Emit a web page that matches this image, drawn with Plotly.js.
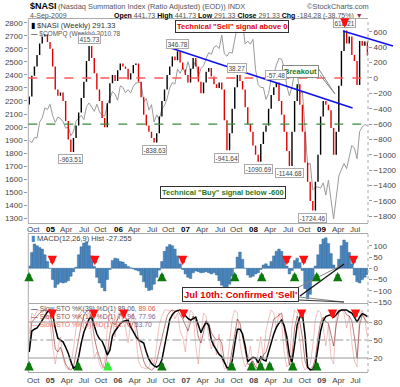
<!DOCTYPE html>
<html><head><meta charset="utf-8">
<script src="https://cdn.plot.ly/plotly-3.0.1.min.js"></script>
<style>html,body{margin:0;padding:0;background:#fff;}#chart{width:400px;height:387px;}</style>
</head><body><div id="chart"></div>
<script>
// ---------------- DATA ----------------
const startDate = [2004, 8, 10];   // first weekly bar used (UTC y, m0, d)
const stepDays = 14;               // bi-weekly sampling of the weekly chart

const compq = [1895,1880,1920,1915,2038,2070,2147,2135,2175,
2087,2035,2076,2065,2041,1991,1999,1932,1967,2046,2071,2090,2057,2156,2185,2157,2120,2175,2116,2090,2083,2170,2227,2273,2252,2205,
2317,2304,2262,2287,2262,2313,2339,2342,2343,2193,2219,2130,2172,2038,2094,2057,2140,2165,2218,2299,2342,2330,2445,2413,2457,2415,
2502,2435,2459,2515,2387,2448,2471,2526,2573,2558,2613,2626,2603,2707,2562,2544,2576,2566,2671,2780,2726,2795,2637,2660,2636,2674,
2440,2326,2304,2303,2212,2258,2370,2402,2476,2528,2522,2454,2316,2239,2310,2414,2414,2255,2273,1947,1711,1720,1517,1536,1540,1530,
1571,1477,1591,1441,1293,1457,1622,1673,1719,1680,1774,1858,1838,1756,1966,2000,2020,2010.78];

const nasiFirstOpen = -345;
const nasi = [-240,30,150,300,450,540,570,470,380,150,
-150,-230,-190,-300,-560,-800,-963.51,-780,-620,-450,
-260,-50,220,415.73,260,60,-150,-300,-520,-640,
-330,-70,40,-40,100,190,150,120,-20,60,
170,190,-50,-250,-480,-620,-700,-780,-838.63,-720,
-500,-300,-150,40,150,280,230,346.78,200,110,
40,-60,120,260,150,-50,-200,-60,80,130,
20,-80,-130,-60,-150,-550,-941.64,-720,-400,-120,
38.27,-40,-150,-380,-600,-700,-880,-1000,-1090.69,-860,
-700,-620,-400,-220,-120,-57.48,-300,-480,-700,-950,
-1144.68,-700,-300,-80,-350,-700,-1100,-1350,-1600,-1724.46,
-1350,-1000,-500,-300,-350,-420,-650,-1000,-700,-100,
350,618.21,450,540,300,220,-90,480,420,475.61,
291.33];

const macdHist = [10,70,108,100,92,85,60,30,0,-50,
-85,-70,-62,-65,-62,-55,-35,-15,5,60,
95,112,118,100,55,8,-40,-65,-85,-100,
-50,-5,35,45,42,30,28,18,8,2,
-3,-8,-12,-30,-60,-85,-98,-95,-70,-40,
-8,30,75,95,105,100,85,55,20,-5,
-25,-40,-45,-20,-12,-15,-20,-18,-15,-20,
-25,-20,-30,-55,-75,-90,-95,-70,-35,0,
50,72,40,0,-30,-40,-35,-25,-20,-5,
15,20,10,30,55,75,85,75,50,10,
-25,-10,35,45,25,-10,-90,-135,-115,-55,
10,60,105,130,135,110,65,15,-5,40,
100,125,115,70,20,-30,-60,-65,-50,-40,
-27.255];

const sto39 = [30,65,68,70,76,83,92,97,100,94,
70,53,50,47,38,28,14,3,6,22,
45,63,74,85,88,74,60,52,48,38,
25,33,57,65,72,77,81,82,83,72,
63,56,50,48,45,30,18,11,7,5,
8,17,38,58,84,92,97,99,100,96,
91,86,83,86,88,75,62,72,80,74,
50,40,33,26,22,14,4,3,15,43,
68,68,60,40,14,18,21,20,12,22,
17,15,32,45,60,71,78,83,74,55,
25,13,42,75,88,94,58,5,0,1,
10,37,65,82,89,91,92,88,92,98,
100,100,100,97,95,88,80,88,94,92,
89.06];

const sto14 = [40,80,85,90,95,98,100,98,95,70,
35,30,38,25,10,3,0,5,30,55,
75,90,98,100,85,55,35,22,8,3,
25,60,80,75,85,95,92,88,75,70,
80,78,50,30,15,5,2,0,3,15,
35,55,75,90,97,100,98,100,92,85,
75,65,80,90,82,55,45,65,82,78,
62,55,50,52,45,15,2,8,35,65,
85,78,55,30,10,8,15,5,2,15,
25,30,45,65,85,88,92,95,70,35,
8,25,70,90,80,55,15,3,2,5,
20,55,80,88,80,78,60,40,75,95,
100,100,92,90,82,55,20,75,92,85,
77.96];

const sto5 = [60,95,90,98,100,95,100,90,80,40,
10,35,55,20,5,0,10,35,70,90,
98,100,100,92,55,20,30,10,2,15,
70,95,85,55,90,100,80,70,45,80,
95,60,15,5,3,2,5,20,10,45,
75,90,100,100,98,100,85,95,65,55,
30,75,100,95,40,10,60,95,90,55,
35,50,25,60,20,2,5,45,85,100,
95,45,20,5,15,40,5,0,30,55,
20,65,85,100,95,70,95,80,30,5,
10,75,100,95,50,10,0,5,10,40,
85,100,95,70,40,75,20,10,90,100,
100,95,70,90,45,15,5,90,100,85,
53.70];

const tickDates = ['2004-10-01','2005-01-01','2005-04-01','2005-07-01','2005-10-01','2006-01-01','2006-04-01','2006-07-01','2006-10-01','2007-01-01','2007-04-01','2007-07-01','2007-10-01','2008-01-01','2008-04-01','2008-07-01','2008-10-01','2009-01-01','2009-04-01','2009-07-01'];
const tickLabels = ['Oct','<b>05</b>','Apr','Jul','Oct','<b>06</b>','Apr','Jul','Oct','<b>07</b>','Apr','Jul','Oct','<b>08</b>','Apr','Jul','Oct','<b>09</b>','Apr','Jul'];
const leftTicks = [1300,1400,1500,1600,1700,1800,1900,2000,2100,2200,2300,2400,2500,2600,2700,2800];
const rightTicks = [-1800,-1600,-1400,-1200,-1000,-800,-600,-400,-200,0,200,400,600];

// extreme-value labels: [index, text, direction(+1 above / -1 below)]
const extremeLabels = [[23,'415.73',1],[16,'-963.51',-1],[48,'-838.63',-1],[57,'346.78',1],[80,'38.27',1],[76,'-941.64',-1],[88,'-1090.69',-1],[95,'-57.48',1],[100,'-1144.68',-1],[109,'-1724.46',-1],[121,'618.21',1]];

const mainSellDates = ['2009-05-05'];
const macdBuyDates = ['2004-09-09','2006-08-25','2007-09-21','2008-02-13','2008-08-08','2008-12-05','2009-03-28'];
const macdSellDates = ['2005-01-12','2005-08-29','2006-12-15','2008-06-27','2008-09-26','2009-06-21'];
const stoBuyDates = ['2004-09-09','2005-05-31','2006-08-25','2007-09-04','2007-12-20','2008-02-07','2008-03-27','2008-07-29','2008-12-05'];
const stoBuyLightDates = ['2005-11-07'];
const stoSellDates = ['2005-01-12','2005-08-24','2006-02-01','2006-12-20','2008-09-15','2009-02-28','2009-07-02'];

// ---------------- BUILD ----------------
const dates = nasi.map((_, i) => new Date(Date.UTC(startDate[0], startDate[1], startDate[2] + stepDays*i)).toISOString().slice(0,10));
const nOpen = nasi.map((c, i) => i === 0 ? nasiFirstOpen : nasi[i-1]);
const nHigh = nasi.map((c, i) => Math.max(c, nOpen[i]));
const nLow  = nasi.map((c, i) => Math.min(c, nOpen[i]));

const W = 400, H = 387;
const px = v => v / W, py = v => 1 - v / H;
const FONT = 'Liberation Sans, Arial, sans-serif';
const X0 = px(28.3), X1 = px(368);
const MAIN = [223, 19.3], MACD = [303, 234], STO = [372, 304];

const traces = [
  {type:'scatter', mode:'lines', x:dates, y:compq, xaxis:'x', yaxis:'y', line:{color:'#9a9a9a', width:1}, hoverinfo:'skip'},
  {type:'ohlc', x:dates, open:nOpen, high:nHigh, low:nLow, close:nasi, xaxis:'x', yaxis:'y2', tickwidth:0,
   increasing:{line:{color:'#000000', width:1.4}}, decreasing:{line:{color:'#e00000', width:1.4}}, hoverinfo:'skip'},
  {type:'bar', x:dates, y:macdHist, xaxis:'x2', yaxis:'y3', marker:{color:'#4a87c0', line:{color:'#2c5d8a', width:0.4}}, hoverinfo:'skip'},
  {type:'scatter', mode:'lines', x:dates, y:sto5, xaxis:'x3', yaxis:'y4', line:{color:'rgba(225,120,120,0.45)', width:1}, hoverinfo:'skip'},
  {type:'scatter', mode:'lines', x:dates, y:sto14, xaxis:'x3', yaxis:'y4', line:{color:'rgba(130,20,20,0.55)', width:1}, hoverinfo:'skip'},
  {type:'scatter', mode:'lines', x:dates, y:sto39, xaxis:'x3', yaxis:'y4', line:{color:'#000000', width:1.5}, hoverinfo:'skip'}
];

const xRange = ['2004-09-05', '2009-09-07'];
const tickFont = {family:FONT, size:8, color:'#444'};
const xBase = {type:'date', range:xRange, domain:[X0, X1], tickmode:'array', tickvals:tickDates, ticktext:tickLabels,
  tickfont:tickFont, ticks:'', showgrid:false, zeroline:false, showline:true, linecolor:'#aaa', linewidth:1, mirror:true, fixedrange:true};

const shapes = [];
function vline(x, y0, y1, dash){ shapes.push({type:'line', xref:'paper', yref:'paper', x0:px(x), x1:px(x), y0:py(y0), y1:py(y1), line:{color:'#aaa', width:1, dash:dash||'solid'}}); }
[MAIN, MACD, STO].forEach(p => { vline(28.3, p[0], p[1]); vline(368, p[0], p[1], 'dot'); });
// reference levels on NASI
shapes.push({type:'line', xref:'paper', yref:'y2', x0:X0, x1:X1, y0:0, y1:0, line:{color:'#ff5a5a', width:1.3, dash:'dash'}});
shapes.push({type:'line', xref:'paper', yref:'y2', x0:X0, x1:X1, y0:-600, y1:-600, line:{color:'#3c8c3c', width:1.3, dash:'dash'}});
// trendlines
shapes.push({type:'line', xref:'x', yref:'y2', x0:'2006-09-26', y0:404, x1:'2009-06-16', y1:-391, line:{color:'#1010ee', width:1.6}});
shapes.push({type:'line', xref:'paper', yref:'paper', x0:px(343), y0:py(31), x1:px(393), y1:py(46), line:{color:'#1010ee', width:1.6}});
// stochastic levels
[[80,'solid'],[50,'dashdot'],[20,'solid']].forEach(l => shapes.push({type:'line', xref:'paper', yref:'y4', x0:X0, x1:X1, y0:l[0], y1:l[0], line:{color:'#999', width:1, dash:l[1]}}));
// callout lines
function pline(x0,y0,x1,y1,color,w){ shapes.push({type:'line', xref:'paper', yref:'paper', x0:px(x0), y0:py(y0), x1:px(x1), y1:py(y1), line:{color:color, width:w||1}}); }
pline(318,68,335,94,'#888'); pline(320,75,335,94,'#888');
pline(297,288,344,264,'#888'); pline(300,296,344,264,'#111',1.3);
pline(299,297,344,302,'#888'); pline(299,300,344,302,'#333');

const ann = [];
function txt(x, y, text, size, color, opts){ ann.push(Object.assign({xref:'paper', yref:'paper', x:px(x), y:py(y), xanchor:'left', yanchor:'middle', text:text, showarrow:false, font:{family:FONT, size:size, color:color}}, opts||{})); }
// main-panel date labels (drawn just under the price panel, above the MACD panel)
tickDates.forEach((d, i) => ann.push({xref:'x', yref:'paper', x:d, y:py(229), xanchor:'center', yanchor:'middle', text:tickLabels[i],
  showarrow:false, font:{family:FONT, size:8, color: tickLabels[i].indexOf('<b>') === 0 ? '#000' : '#444'}}));
// header
txt(28, 5.8, '<b>$NASI</b>', 9, '#000');
txt(56, 6.3, '(Nasdaq Summation Index (Ratio Adjusted) (EOD)) INDX', 7.4, '#555');
txt(371, 6, '©StockCharts.com', 7.4, '#555', {xanchor:'right'});
txt(28, 16, '4-Sep-2009', 7, '#555');
const B = s => '<span style="color:#000"><b>' + s + '</b></span>';
txt(112, 16, B('Open') + ' 441.73 ' + B('High') + ' 441.73 ' + B('Low') + ' 291.33 ' + B('Close') + ' 291.33 ' + B('Chg') + ' -184.28 (-38.75%) <span style="color:#a03030">▼</span>', 7, '#555');
// main legend
txt(29, 25.5, '<span style="color:#000">▮</span> $NASI (Weekly) 291.33', 7.5, '#333');
txt(29, 34, '<span style="color:#000">—</span> $COMPQ (Weekly) 2010.78', 6.5, '#555');
// MACD legend
txt(29, 238.5, '<span style="color:#4a87c0">▮</span> MACD(12,26,9) Hist -27.255', 7.5, '#444');
// Stoch legend
txt(29, 308.5, '<span style="color:#000">—</span> Slow STO %K(39) %D(1) 89.06, <span style="color:#e05050">89.06</span>', 6.8, '#555');
txt(29, 316.5, '<span style="color:#8b1a1a">—</span> Slow STO %K(14) %D(1) 77.96, <span style="color:#6a6aa8">77.96</span>', 6.8, '#9b4a4a');
txt(29, 324.5, '<span style="color:#f07070">—</span> Slow STO %K(5) %D(1) 53.70, <span style="color:#6a6aa8">53.70</span>', 6.8, '#f07070');
// boxed notes
const boxOpts = (bc) => ({xanchor:'center', bgcolor:'#fff', bordercolor:bc, borderwidth:1, borderpad:1});
txt(231.5, 26, '<b>Technical "Sell" signal above 0</b>', 7.5, '#e00000', boxOpts('#333'));
txt(222.5, 192.5, '<b>Technical "Buy" signal below -600</b>', 7.5, '#1e7a1e', boxOpts('#333'));
txt(300, 71, '<b>Breakout</b>', 7.5, '#1e7a1e', boxOpts('#888'));
txt(240, 294.5, "<b>Jul 10th: Confirmed 'Sell'</b>", 9.5, '#e00000', boxOpts('#333'));
// extreme labels
extremeLabels.forEach(l => ann.push({xref:'x', yref:'y2', x:dates[l[0]], y:nasi[l[0]], yshift:l[2]*7.5, text:l[1], showarrow:false,
  font:{family:FONT, size:6.5, color:'#444'}, bgcolor:'#fff', bordercolor:'#aaa', borderwidth:1, borderpad:0.5}));
// signal arrows
function arrow(x, yref, y, up, color){ ann.push({xref:'x', yref:yref, x:x, y:y, ax:0, ay:up ? 10 : -10, text:'', showarrow:true,
  arrowhead:2, arrowsize:0.45, arrowwidth:4.2, arrowcolor:color}); }
mainSellDates.forEach(d => arrow(d, 'y2', 655, false, '#ff1010'));
macdSellDates.forEach(d => arrow(d, 'y3', 14, false, '#ff1010'));
macdBuyDates.forEach(d => arrow(d, 'y3', -16, true, '#0a7a0a'));
stoSellDates.forEach(d => arrow(d, 'y4', 85, false, '#ff1010'));
stoBuyDates.forEach(d => arrow(d, 'y4', 15, true, '#0a7a0a'));
stoBuyLightDates.forEach(d => arrow(d, 'y4', 15, true, '#33ee33'));

const layout = {
  width:W, height:H, margin:{l:0, r:0, t:0, b:0}, paper_bgcolor:'#fff', plot_bgcolor:'#fff',
  showlegend:false, bargap:0, hovermode:false, font:{family:FONT},
  xaxis: Object.assign({}, xBase, {anchor:'y', showticklabels:false, rangeslider:{visible:false}}),
  xaxis2: Object.assign({}, xBase, {anchor:'y3', showticklabels:false}),
  xaxis3: Object.assign({}, xBase, {anchor:'y4'}),
  yaxis: {domain:[py(MAIN[0]), py(MAIN[1])], range:[1262, 2828], side:'left', anchor:'x', tickmode:'array', tickvals:leftTicks,
    ticks:'outside', ticklen:3, tickcolor:'#999', tickfont:tickFont, showgrid:false, zeroline:false, showline:false, fixedrange:true},
  yaxis2: {overlaying:'y', side:'right', anchor:'x', range:[-1888, 764], tickmode:'array', tickvals:rightTicks,
    ticks:'outside', ticklen:3, tickcolor:'#999', tickfont:tickFont, showgrid:false, zeroline:false, showline:false, fixedrange:true},
  yaxis3: {domain:[py(MACD[0]), py(MACD[1])], range:[-153.5, 151.8], side:'right', anchor:'x2', tickmode:'array', tickvals:[-150,-100,-50,0,50,100],
    ticks:'outside', ticklen:3, tickcolor:'#999', tickfont:tickFont, showgrid:false, zeroline:false, showline:false, fixedrange:true},
  yaxis4: {domain:[py(STO[0]), py(STO[1])], range:[-3.3, 110], side:'right', anchor:'x3', tickmode:'array', tickvals:[20,50,80],
    ticks:'outside', ticklen:3, tickcolor:'#999', tickfont:tickFont, showgrid:false, zeroline:false, showline:false, fixedrange:true},
  shapes:shapes, annotations:ann
};

Plotly.newPlot('chart', traces, layout, {staticPlot:true, displayModeBar:false});
</script>
</body></html>
